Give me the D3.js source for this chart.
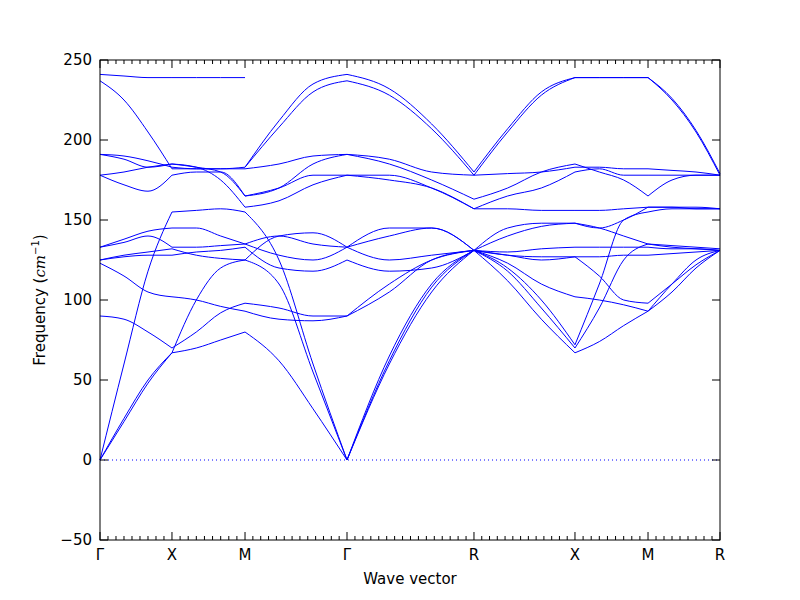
<!DOCTYPE html><html><head><meta charset="utf-8"><script src="https://cdn.jsdelivr.net/npm/d3@7"></script>
<style>body{margin:0;background:#fff}text{font-family:"DejaVu Sans";}</style></head><body><svg id="c" width="800" height="600"></svg>
<script>
const symLabels=["Γ","X","M","Γ","R","X","M","R"];
const symPos=[0,0.1161,0.2339,0.3984,0.6032,0.7661,0.8839,1];
const yTicks=[-50,0,50,100,150,200,250];
// each band: 7 segments x 4 samples (start, 1/3, 2/3, end)
const bands=[
[[0,24,48,67],[67,70,75,80],[80,62,32,0],[0,60,105,131],[131,112,88,67],[67,74,84,93],[93,105,120,131]],
[[0,26,50,67],[67,100,120,125],[125,110,55,0],[0,62,108,131],[131,118,95,70],[70,95,125,135],[135,133,132,131]],
[[0,60,118,155],[155,156,157,155],[155,125,60,0],[0,65,110,131],[131,120,100,72],[72,110,150,155],[155,157,157,157]],
[[90,88,80,70],[70,80,92,98],[98,95,90,90],[90,105,125,131],[131,128,125,127],[127,115,100,98],[98,110,122,131]],
[[123,115,105,102],[102,100,96,93],[93,88,87,90],[90,110,125,131],[131,123,110,102],[102,100,97,93],[93,110,125,131]],
[[125,127,128,128],[128,130,131,133],[133,120,118,125],[125,118,120,131],[131,128,127,127],[127,127,128,128],[128,129,130,131]],
[[133,136,140,133],[133,133,134,135],[135,128,125,133],[133,125,128,131],[131,130,132,133],[133,133,133,133],[133,132,132,131]],
[[133,138,143,145],[145,145,140,135],[135,140,135,133],[133,140,145,131],[131,140,146,148],[148,145,140,135],[135,134,133,132]],
[[125,128,130,132],[132,128,126,125],[125,140,142,133],[133,145,145,131],[131,145,148,148],[148,145,150,158],[158,158,158,157]],
[[178,172,168,178],[178,180,180,165],[165,170,178,178],[178,175,170,157],[157,157,156,156],[156,156,157,158],[158,158,157,157]],
[[178,180,183,185],[185,183,175,158],[158,162,172,178],[178,178,170,157],[157,165,170,180],[180,182,178,178],[178,178,178,178]],
[[191,188,183,185],[185,183,180,165],[165,170,185,191],[191,185,175,163],[163,170,180,185],[185,180,175,165],[165,175,178,178]],
[[191,190,187,183],[183,182,182,182],[182,185,190,191],[191,188,180,178],[178,179,180,183],[183,183,182,182],[182,181,180,178]],
[[237,225,205,182],[182,182,182,183],[183,208,230,237],[237,228,207,178],[178,205,228,239],[239,239,239,239],[239,225,205,178]],
[[241,240,239,239],[239,239,239,239],[183,212,235,241],[241,232,210,180],[180,207,230,239],[239,239,239,239],[239,226,206,179]]
];
const svg=d3.select("#c");
const L=100,R=720,T=60,B=540;
const x=d3.scaleLinear().domain([0,1]).range([L,R]);
const y=d3.scaleLinear().domain([-50,250]).range([B,T]);
const line=d3.line().x(d=>x(d[0])).y(d=>y(d[1])).curve(d3.curveMonotoneX);
bands.forEach(b=>{
  b.forEach((seg,s)=>{
    const pts=seg.map((v,j)=>[symPos[s]+(symPos[s+1]-symPos[s])*j/3,v]);
    svg.append("path").attr("d",line(pts)).attr("fill","none").attr("stroke","#0000ff").attr("stroke-width",1);
  });
});
svg.append("line").attr("x1",L).attr("x2",R).attr("y1",y(0)).attr("y2",y(0)).attr("stroke","#0000ff").attr("stroke-dasharray","1,3").attr("stroke-width",1);
svg.append("rect").attr("x",L).attr("y",T).attr("width",R-L).attr("height",B-T).attr("fill","none").attr("stroke","#000");
yTicks.forEach(t=>{
  svg.append("line").attr("x1",L).attr("x2",L+8).attr("y1",y(t)).attr("y2",y(t)).attr("stroke","#000");
  svg.append("line").attr("x1",R).attr("x2",R-8).attr("y1",y(t)).attr("y2",y(t)).attr("stroke","#000");
  svg.append("text").attr("x",L-8).attr("y",y(t)+5).attr("text-anchor","end").attr("font-size",15).text(t<0?"\u2212"+(-t):t);
});
for(let s=0;s<7;s++){const n=Math.round((symPos[s+1]-symPos[s])*80);for(let j=1;j<n;j++){const k=symPos[s]+(symPos[s+1]-symPos[s])*j/n;
 svg.append("line").attr("x1",x(k)).attr("x2",x(k)).attr("y1",B).attr("y2",B-4).attr("stroke","#000");
 svg.append("line").attr("x1",x(k)).attr("x2",x(k)).attr("y1",T).attr("y2",T+4).attr("stroke","#000");}}
symPos.forEach((p,i)=>{
  svg.append("line").attr("x1",x(p)).attr("x2",x(p)).attr("y1",B).attr("y2",B-8).attr("stroke","#000");
  svg.append("line").attr("x1",x(p)).attr("x2",x(p)).attr("y1",T).attr("y2",T+8).attr("stroke","#000");
  svg.append("text").attr("x",x(p)).attr("y",B+20).attr("text-anchor","middle").attr("font-size",15).text(symLabels[i]);
});
svg.append("text").attr("x",(L+R)/2).attr("y",584).attr("text-anchor","middle").attr("font-size",15).text("Wave vector");
const yl=svg.append("text").attr("transform",`translate(45,${(T+B)/2}) rotate(-90)`).attr("text-anchor","middle").attr("font-size",15);
yl.append("tspan").text("Frequency (");
yl.append("tspan").attr("font-style","italic").attr("font-family","DejaVu Serif").text("cm");
yl.append("tspan").attr("font-size",10).attr("dy",-6).text("\u22121");
yl.append("tspan").attr("dy",6).text(")");
</script></body></html>
